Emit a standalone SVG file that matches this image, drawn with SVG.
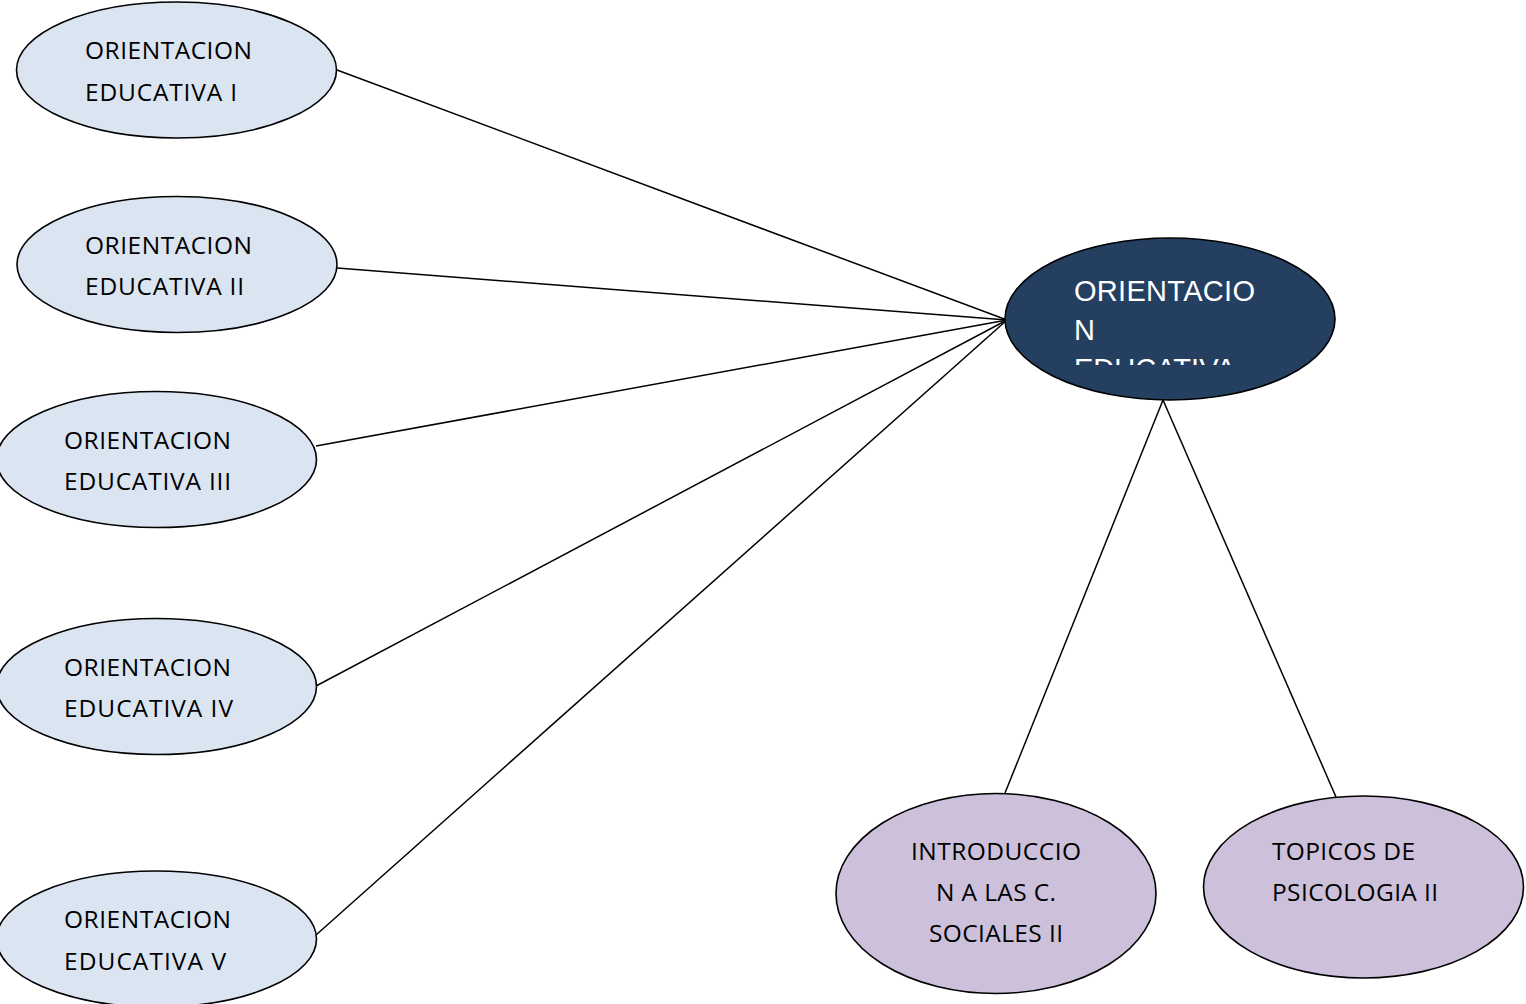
<svg xmlns="http://www.w3.org/2000/svg" width="1526" height="1004" viewBox="0 0 1526 1004">
<defs>
<style>
.n{stroke:#000;stroke-width:1.6}
.blue{fill:#DBE5F1}
.purple{fill:#CCC0DA}
.dark{fill:#243F60}
.t{font-family:"Open Sans","Liberation Sans",sans-serif;font-size:24.5px;fill:#000}
.tc{text-anchor:middle}
.w{font-family:"Liberation Sans",Arial,sans-serif;font-size:29px;fill:#fff}
.c{stroke:#000;stroke-width:1.5;fill:none}
</style>
<clipPath id="cclip"><rect x="1005" y="238" width="330" height="127"/></clipPath>
</defs>
<rect width="1526" height="1004" fill="#fff"/>
<g id="connectors">
<line class="c" x1="337" y1="70" x2="1007" y2="320"/>
<line class="c" x1="337" y1="268" x2="1007" y2="320"/>
<line class="c" x1="316" y1="446" x2="1007" y2="320"/>
<line class="c" x1="316" y1="686" x2="1007" y2="320"/>
<line class="c" x1="316" y1="935" x2="1007" y2="320"/>
<line class="c" x1="1163" y1="400" x2="1005" y2="793"/>
<line class="c" x1="1163" y1="400" x2="1336" y2="797"/>
</g>
<g id="oe1">
<ellipse class="n blue" cx="176.5" cy="70" rx="160" ry="68"/>
<text class="t" x="85" y="59" textLength="167">ORIENTACION</text>
<text class="t" x="85" y="101" textLength="152">EDUCATIVA I</text>
</g>
<g id="oe2">
<ellipse class="n blue" cx="177" cy="264.5" rx="160" ry="68"/>
<text class="t" x="85" y="254" textLength="167">ORIENTACION</text>
<text class="t" x="85" y="295" textLength="159">EDUCATIVA II</text>
</g>
<g id="oe3">
<ellipse class="n blue" cx="156.5" cy="459.5" rx="160" ry="68"/>
<text class="t" x="64" y="449" textLength="167">ORIENTACION</text>
<text class="t" x="64" y="490" textLength="167">EDUCATIVA III</text>
</g>
<g id="oe4">
<ellipse class="n blue" cx="156.5" cy="686.5" rx="160" ry="68"/>
<text class="t" x="64" y="676" textLength="167">ORIENTACION</text>
<text class="t" x="64" y="717" textLength="169">EDUCATIVA IV</text>
</g>
<g id="oe5">
<ellipse class="n blue" cx="156.5" cy="939" rx="160" ry="68"/>
<text class="t" x="64" y="928" textLength="167">ORIENTACION</text>
<text class="t" x="64" y="970" textLength="162">EDUCATIVA V</text>
</g>
<g id="central">
<ellipse class="n dark" cx="1170" cy="319" rx="165" ry="81"/>
<g clip-path="url(#cclip)">
<text class="w" x="1074" y="301" textLength="181">ORIENTACIO</text>
<text class="w" x="1074" y="340">N</text>
<text class="w" x="1074" y="379">EDUCATIVA</text>
</g>
</g>
<g id="intro">
<ellipse class="n purple" cx="996" cy="893.5" rx="160" ry="100"/>
<text class="t tc" x="996" y="860" textLength="170">INTRODUCCIO</text>
<text class="t tc" x="996" y="901" textLength="120">N A LAS C.</text>
<text class="t tc" x="996" y="942" textLength="134">SOCIALES II</text>
</g>
<g id="topicos">
<ellipse class="n purple" cx="1363.5" cy="887" rx="160" ry="91"/>
<text class="t" x="1272" y="860" textLength="143">TOPICOS DE</text>
<text class="t" x="1272" y="901" textLength="166">PSICOLOGIA II</text>
</g>
</svg>
